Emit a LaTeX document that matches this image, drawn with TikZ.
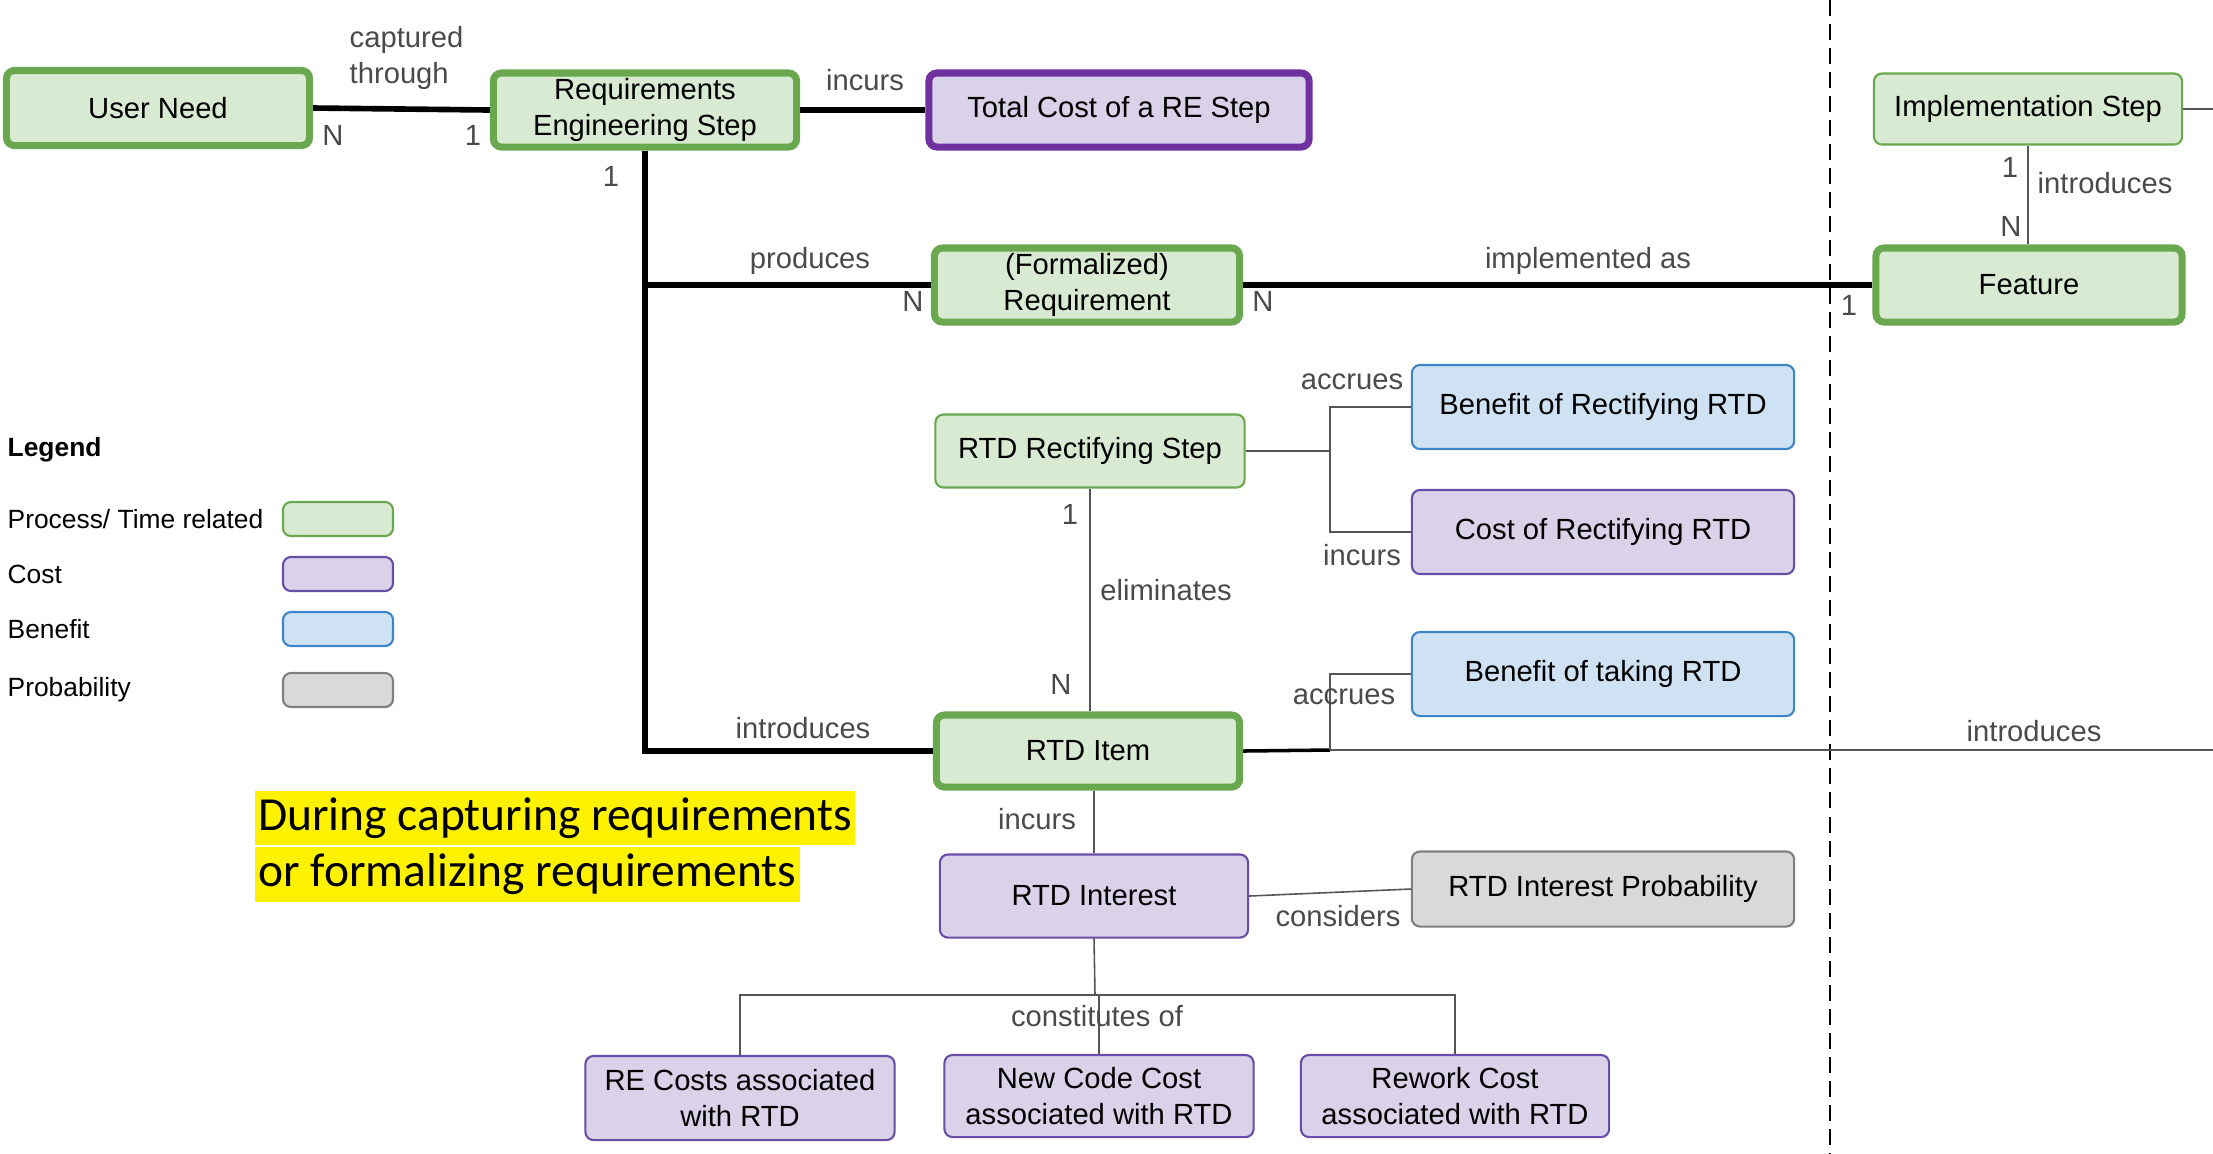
\documentclass[tikz,border=0pt]{standalone}
\usepackage{fontspec}
\setmainfont{Liberation Sans}
\newfontfamily\hlfont{Carlito}
\usetikzlibrary{positioning}

\definecolor{procfill}{HTML}{D9EAD3}
\definecolor{procline}{HTML}{6AA84F}
\definecolor{costfill}{HTML}{D9D2E9}
\definecolor{costline}{HTML}{674EA7}
\definecolor{costdark}{HTML}{7030A0}
\definecolor{benfill}{HTML}{CFE2F3}
\definecolor{benline}{HTML}{3D85C6}
\definecolor{probfill}{HTML}{D9D9D9}
\definecolor{probline}{HTML}{7F7F7F}
\definecolor{lblgray}{HTML}{4A4A4A}
\definecolor{linkgray}{HTML}{555555}

\newcommand{\boxfont}{\fontsize{8.3}{10.4}\selectfont}
\newcommand{\lblfont}{\fontsize{8.3}{10}\selectfont}

\tikzset{
  box/.style={rounded corners=0.08cm, align=center, font=\boxfont, inner sep=1pt},
  procbox/.style={box, fill=procfill, draw=procline, line width=0.6pt},
  procthick/.style={procbox, line width=2pt},
  costbox/.style={box, fill=costfill, draw=costline, line width=0.6pt},
  costthick/.style={costbox, draw=costdark, line width=2pt},
  benbox/.style={box, fill=benfill, draw=benline, line width=0.6pt},
  probbox/.style={box, fill=probfill, draw=probline, line width=0.6pt},
  rel/.style={draw=black, line width=1.6pt},
  link/.style={draw=linkgray, line width=0.45pt},
  lbl/.style={font=\lblfont, text=lblgray, inner sep=0pt},
  swatch/.style={minimum width=1.10cm, minimum height=0.34cm},
  note/.style={anchor=west, fill=yellow, font=\hlfont\fontsize{13.5}{16}\selectfont, inner xsep=1pt, inner ysep=2pt}
}

\begin{document}
\begin{tikzpicture}[x=0.01cm, y=-0.01cm]
    \useasboundingbox (0,0) rectangle (2213,1153);

    % Boxes
    \node[procthick, minimum width=3.03cm, minimum height=0.75cm] (usr) at (158,108) {User Need};
    \node[procthick, minimum width=3.03cm, minimum height=0.74cm] (res) at (645,110) {Requirements\\Engineering Step};
    \node[costthick, minimum width=3.80cm, minimum height=0.74cm] (tot) at (1119,110) {Total Cost of a RE Step};
    \node[procthick, minimum width=3.05cm, minimum height=0.74cm] (freq) at (1087,285) {(Formalized)\\Requirement};
    \node[procthick, minimum width=3.06cm, minimum height=0.74cm] (feat) at (2029,285) {Feature};
    \node[procbox, minimum width=3.08cm, minimum height=0.71cm] (impl) at (2028,109) {Implementation Step};
    \node[procbox, minimum width=3.09cm, minimum height=0.73cm] (rect) at (1090,451) {RTD Rectifying Step};
    \node[benbox, minimum width=3.82cm, minimum height=0.84cm] (benr) at (1603,407) {Benefit of Rectifying RTD};
    \node[costbox, minimum width=3.82cm, minimum height=0.84cm] (costr) at (1603,532) {Cost of Rectifying RTD};
    \node[benbox, minimum width=3.82cm, minimum height=0.84cm] (bent) at (1603,674) {Benefit of taking RTD};
    \node[procthick, minimum width=3.03cm, minimum height=0.72cm] (item) at (1088,751) {RTD Item};
    \node[costbox, minimum width=3.08cm, minimum height=0.83cm] (intr) at (1094,896) {RTD Interest};
    \node[probbox, minimum width=3.82cm, minimum height=0.75cm] (prob) at (1603,889) {RTD Interest Probability};
    \node[costbox, minimum width=3.09cm, minimum height=0.84cm] (rec) at (740,1098) {RE Costs associated\\with RTD};
    \node[costbox, minimum width=3.09cm, minimum height=0.82cm] (ncc) at (1099,1096) {New Code Cost\\associated with RTD};
    \node[costbox, minimum width=3.08cm, minimum height=0.82cm] (rwc) at (1455,1096) {Rework Cost\\associated with RTD};

    % Split points and free ends
    \coordinate (rsplit) at (1330,451);
    \coordinate (isplit) at (1330,750);
    \coordinate (csplit) at (1095,995);
    \coordinate (implout) at (2213,109);
    \coordinate (itemout) at (2213,750);
    \coordinate (dtop) at (1830,0);
    \coordinate (dbot) at (1830,1153);

    % Divider
    \draw[black, line width=0.8pt, dash pattern=on 1.6mm off 0.8mm] (dtop) -- (dbot);

    % Thick relations
    \draw[rel] (usr.east) -- (res.west);
    \draw[rel] (res.east) -- (tot.west);
    \draw[rel] (res.south) -- (res.south |- item.west) -- (item.west);
    \draw[rel] (res.south |- freq.west) -- (freq.west);
    \draw[rel] (freq.east) -- (feat.west);

    % Thin relations
    \draw[link] (impl.south) -- (impl.south |- feat.north);
    \draw[link] (impl.east) -- (implout);
    \draw[link] (rect.east) -- (rsplit);
    \draw[link] (rsplit) |- (benr.west);
    \draw[link] (rsplit) |- (costr.west);
    \draw[link] (rect.south) -- (rect.south |- item.north);
    \draw[draw=black, line width=1pt] (item.east) -- (isplit);
    \draw[link] (isplit) |- (bent.west);
    \draw[link] (isplit) -- (itemout);
    \draw[link] (intr.north |- item.south) -- (intr.north);
    \draw[link] (intr.east) -- (prob.west);
    \draw[link] (intr.south) -- (csplit);
    \draw[link] (csplit) -| (rec.north);
    \draw[link] (csplit) -| (ncc.north);
    \draw[link] (csplit) -| (rwc.north);

    % Relation labels
    \node[lbl, anchor=west, align=left] (lcap) at (349,58) {captured\\through};
    \node[lbl] (lincre) at (865,80) {incurs};
    \node[lbl] (nusr) at (333,135) {N};
    \node[lbl] (ores) at (473,135) {1};
    \node[lbl] (odown) at (611,176) {1};
    \node[lbl] (lprod) at (810,261) {produces};
    \node[lbl] (nfreq) at (913,301) {N};
    \node[lbl] (lintro) at (803,728) {introduces};
    \node[lbl] (limpl) at (1588,261) {implemented as};
    \node[lbl] (nfeat) at (1263,301) {N};
    \node[lbl] (ofeat) at (1849,305) {1};
    \node[lbl] (oimpl) at (2010,167) {1};
    \node[lbl, anchor=west] (lintroimpl) at (2037,183) {introduces};
    \node[lbl] (nimpl) at (2011,226) {N};
    \node[lbl] (laccr) at (1352,382) {accrues};
    \node[lbl] (lincr) at (1362,555) {incurs};
    \node[lbl] (orect) at (1070,514) {1};
    \node[lbl] (lelim) at (1166,590) {eliminates};
    \node[lbl] (nitem) at (1061,684) {N};
    \node[lbl] (laccb) at (1344,697) {accrues};
    \node[lbl] (lintroitem) at (2034,731) {introduces};
    \node[lbl] (lincint) at (1037,819) {incurs};
    \node[lbl] (lcons) at (1338,916) {considers};
    \node[lbl] (lconst) at (1097,1016) {constitutes of};

    % Legend
    \node[anchor=west, font=\fontsize{7.5}{9}\selectfont\bfseries, inner sep=0pt] (leg) at (7,450) {Legend};
    \node[anchor=west, font=\fontsize{7.5}{9}\selectfont, inner sep=0pt] (legp) at (7,519) {Process/ Time related};
    \node[anchor=west, font=\fontsize{7.5}{9}\selectfont, inner sep=0pt] (legc) at (7,574) {Cost};
    \node[anchor=west, font=\fontsize{7.5}{9}\selectfont, inner sep=0pt] (legb) at (7,629) {Benefit};
    \node[anchor=west, font=\fontsize{7.5}{9}\selectfont, inner sep=0pt] (legr) at (7,690) {Probability};
    \node[procbox, swatch] (swp) at (338,519) {};
    \node[costbox, swatch] (swc) at (338,574) {};
    \node[benbox, swatch] (swb) at (338,629) {};
    \node[probbox, swatch] (swr) at (338,690) {};

    % Note
    \node[note] (note1) at (254,818) {During capturing requirements\hspace{4pt}};
    \node[note, below=0pt of note1.south west, anchor=north west] (note2) {or formalizing requirements};
\end{tikzpicture}
\end{document}
